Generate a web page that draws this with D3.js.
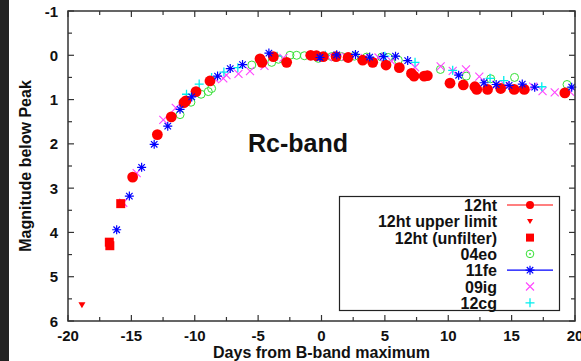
<!DOCTYPE html>
<html>
<head>
<meta charset="utf-8">
<script src="https://cdn.jsdelivr.net/npm/d3@7"></script>
<style>
  body { margin: 0; background: #fff; }
  svg { display: block; font-family: "Liberation Sans", Arial, sans-serif; font-weight: bold; }
</style>
</head>
<body>
<svg id="chart" width="581" height="361"></svg>
<script>
// values: [days from B max, magnitude below peak]
const sn12ht = [[-14.9,2.75],[-12.95,1.79],[-11.85,1.39],[-10.85,1.07],[-10.7,1.03],[-9.9,0.82],[-8.8,0.58],
  [-4.85,0.08],[-4.7,0.16],[-3.8,0.03],[-2.75,0.16],[-0.85,0.0],[-0.4,0.01],[0.14,0.03],[1.15,0.03],[2.1,0.05],
  [3.25,0.11],[4.04,0.16],[5.09,0.22],[6.14,0.28],[7.1,0.41],[7.3,0.47],[8.1,0.47],[8.35,0.46],[10.14,0.63],
  [11.19,0.67],[12.1,0.71],[12.25,0.77],[13.1,0.77],[14.14,0.75],[15.2,0.77],[16.0,0.77],[19.2,0.85]];
const sn12htLimit = [[-18.9,5.64]];
const sn12htUnfilter = [[-16.74,4.22],[-16.7,4.3],[-15.84,3.35]];
const sn04eo = [[-11.16,1.34],[-10.3,1.06],[-9.5,0.88],[-8.93,0.82],[-8.67,0.75],[-5.5,0.22],[-3.93,0.16],
  [-3.4,0.09],[-2.49,0.0],[-1.96,0.0],[-1.35,0.01],[-0.25,0.07],[0.8,0.03],[1.59,0.03],[2.6,0.02],[3.57,0.04],
  [4.75,0.04],[5.27,0.05],[6.06,0.11],[9.38,0.32],[11.42,0.47],[13.35,0.53],[15.23,0.5],[19.37,0.66]];
const sn11fe = [[-16.16,3.94],[-15.16,3.18],[-14.19,2.53],[-13.2,2.01],[-12.13,1.6],[-11.16,1.22],[-10.24,0.94],
  [-8.2,0.47],[-7.2,0.3],[-6.23,0.21],[-4.15,-0.05],[-0.12,0.05],[1.2,-0.01],[2.68,-0.02],[3.8,0.04],[4.88,0.03],
  [5.84,0.02],[6.8,0.12],[10.82,0.45],[12.82,0.62],[13.78,0.66],[14.8,0.68],[15.84,0.65],[16.82,0.72],[19.74,0.72]];
const sn09ig = [[-15.64,3.33],[-14.58,2.66],[-12.48,1.46],[-11.5,1.19],[-8.4,0.54],[-7.75,0.52],[-7.5,0.45],
  [-6.55,0.42],[-5.64,0.36],[-4.5,0.24],[-3.0,0.06],[0.5,0.04],[1.9,0.03],[3.4,0.06],[4.5,0.05],[5.54,0.14],
  [7.38,0.27],[9.4,0.25],[10.35,0.35],[11.4,0.32],[12.45,0.48],[13.8,0.67],[14.5,0.68],[16.7,0.71],[17.44,0.81],
  [18.4,0.84],[19.6,0.82]];
const sn12cg = [[-10.65,0.88],[-9.65,0.65],[-8.67,0.5],[-7.7,0.38],[-6.6,0.28],[-3.5,0.02],[0.3,0.0],[5.0,0.02],
  [7.38,0.16],[10.35,0.34],[13.3,0.52],[14.38,0.57],[17.38,0.71]];

const xTicks = [-20, -15, -10, -5, 0, 5, 10, 15, 20];
const yTicks = [-1, 0, 1, 2, 3, 4, 5, 6];
const legendLabels = ["12ht", "12ht upper limit", "12ht (unfilter)", "04eo", "11fe", "09ig", "12cg"];

const svg = d3.select("#chart");
const L = 68, R = 575, T = 11, B = 321;

// dark strip on the left edge of the screenshot
svg.append("rect").attr("x", 0).attr("y", 0).attr("width", 9).attr("height", 361).attr("fill", "#222");

const x = d3.scaleLinear().domain([-20, 20]).range([L, R]);
const y = d3.scaleLinear().domain([-1, 6]).range([T, B]);

// marker shapes
const star = s => { const r = s / 2, d = r * 0.72;
  return `M${-r},0L${r},0M0,${-r}L0,${r}M${-d},${-d}L${d},${d}M${-d},${d}L${d},${-d}`; };
const cross = s => { const r = s / 2; return `M${-r},${-r}L${r},${r}M${-r},${r}L${r},${-r}`; };
const plus = s => { const r = s / 2; return `M${-r},0L${r},0M0,${-r}L0,${r}`; };
const tri = s => { const r = s / 2; return `M${-r},${-r * 0.8}L${r},${-r * 0.8}L0,${r * 0.9}Z`; };
const sq = s => { const r = s / 2; return `M${-r},${-r}h${s}v${s}h${-s}Z`; };

function drawPts(data, cls, fn) {
  const g = svg.append("g").attr("class", cls);
  return g.selectAll("g").data(data).enter().append("g")
    .attr("transform", d => `translate(${x(d[0])},${y(d[1])})`)
    .call(fn);
}

const series = [
  { name: "04eo", data: sn04eo, draw: s => s.append("circle").attr("r", 4).attr("fill", "none").attr("stroke", "#33e033").attr("stroke-width", 1) },
  { name: "09ig", data: sn09ig, draw: s => s.append("path").attr("d", cross(8)).attr("stroke", "#ff44ff").attr("stroke-width", 1.1).attr("fill", "none") },
  { name: "12cg", data: sn12cg, draw: s => s.append("path").attr("d", plus(9)).attr("stroke", "#00eeee").attr("stroke-width", 1.3).attr("fill", "none") },
  { name: "12ht", data: sn12ht, draw: s => s.append("circle").attr("r", 5.4).attr("fill", "#ff0000") },
  { name: "lim", data: sn12htLimit, draw: s => s.append("path").attr("d", tri(7)).attr("fill", "#ff0000") },
  { name: "unf", data: sn12htUnfilter, draw: s => s.append("path").attr("d", sq(9)).attr("fill", "#ff0000") },
  { name: "11fe", data: sn11fe, draw: s => s.append("path").attr("d", star(9)).attr("stroke", "#0000ff").attr("stroke-width", 1.2).attr("fill", "none") }
];
series.forEach(s => drawPts(s.data, s.name, s.draw));

// frame and ticks
const axisCol = "#333";
svg.append("rect").attr("x", L).attr("y", T).attr("width", R - L).attr("height", B - T)
  .attr("fill", "none").attr("stroke", axisCol).attr("stroke-width", 1.5);

const xMinor = d3.range(-17.5, 20, 5);
const yMinor = d3.range(-0.5, 6, 1);
const tk = svg.append("g").attr("stroke", axisCol).attr("stroke-width", 1.2);
xTicks.forEach(v => { tk.append("line").attr("x1", x(v)).attr("x2", x(v)).attr("y1", B).attr("y2", B - 6);
  tk.append("line").attr("x1", x(v)).attr("x2", x(v)).attr("y1", T).attr("y2", T + 6); });
xMinor.forEach(v => { tk.append("line").attr("x1", x(v)).attr("x2", x(v)).attr("y1", B).attr("y2", B - 4);
  tk.append("line").attr("x1", x(v)).attr("x2", x(v)).attr("y1", T).attr("y2", T + 4); });
yTicks.forEach(v => { tk.append("line").attr("y1", y(v)).attr("y2", y(v)).attr("x1", L).attr("x2", L + 6);
  tk.append("line").attr("y1", y(v)).attr("y2", y(v)).attr("x1", R).attr("x2", R - 6); });
yMinor.forEach(v => { tk.append("line").attr("y1", y(v)).attr("y2", y(v)).attr("x1", L).attr("x2", L + 4);
  tk.append("line").attr("y1", y(v)).attr("y2", y(v)).attr("x1", R).attr("x2", R - 4); });

// tick labels
svg.append("g").selectAll("text").data(xTicks).enter().append("text")
  .attr("x", d => x(d)).attr("y", 340.5).attr("text-anchor", "middle")
  .attr("font-size", 15).attr("fill", "#111").text(d => d);
svg.append("g").selectAll("text").data(yTicks).enter().append("text")
  .attr("x", 58).attr("y", d => y(d) + 5.5).attr("text-anchor", "end")
  .attr("font-size", 15).attr("fill", "#111").text(d => d);

// axis titles
svg.append("text").attr("x", (L + R) / 2).attr("y", 357.5).attr("text-anchor", "middle")
  .attr("font-size", 16).attr("fill", "#111").text("Days from B-band maximum");
svg.append("text").attr("transform", `translate(31,${(T + B) / 2}) rotate(-90)`).attr("text-anchor", "middle")
  .attr("font-size", 16).attr("fill", "#111").text("Magnitude below Peak");

svg.append("text").attr("x", 298).attr("y", 152).attr("text-anchor", "middle")
  .attr("font-size", 25).attr("fill", "#111").text("Rc-band");

// legend
const lg = svg.append("g");
lg.append("rect").attr("x", 339.5).attr("y", 196.5).attr("width", 220).attr("height", 114)
  .attr("fill", "#fff").attr("stroke", "#222").attr("stroke-width", 1.2);
const rowY = i => 205 + i * 16.3;
legendLabels.forEach((t, i) => {
  lg.append("text").attr("x", 497).attr("y", rowY(i) + 6).attr("text-anchor", "end")
    .attr("font-size", 16).attr("fill", "#111").text(t);
});
const mk = i => lg.append("g").attr("transform", `translate(530,${rowY(i)})`);
lg.append("line").attr("x1", 507).attr("x2", 553).attr("y1", rowY(0)).attr("y2", rowY(0)).attr("stroke", "#ff0000").attr("stroke-width", 1.2);
mk(0).append("circle").attr("r", 4).attr("fill", "#ff0000");
mk(1).append("path").attr("d", tri(6)).attr("fill", "#ff0000");
mk(2).append("path").attr("d", sq(8)).attr("fill", "#ff0000");
const g3 = mk(3);
g3.append("circle").attr("r", 3.8).attr("fill", "none").attr("stroke", "#33e033").attr("stroke-width", 1);
g3.append("circle").attr("r", 0.9).attr("fill", "#33e033");
lg.append("line").attr("x1", 507).attr("x2", 553).attr("y1", rowY(4)).attr("y2", rowY(4)).attr("stroke", "#0000ff").attr("stroke-width", 1.2);
mk(4).append("path").attr("d", star(9)).attr("stroke", "#0000ff").attr("stroke-width", 1.2).attr("fill", "none");
mk(5).append("path").attr("d", cross(8)).attr("stroke", "#ff44ff").attr("stroke-width", 1.1).attr("fill", "none");
mk(6).append("path").attr("d", plus(9)).attr("stroke", "#00eeee").attr("stroke-width", 1.3).attr("fill", "none");
</script>
</body>
</html>
